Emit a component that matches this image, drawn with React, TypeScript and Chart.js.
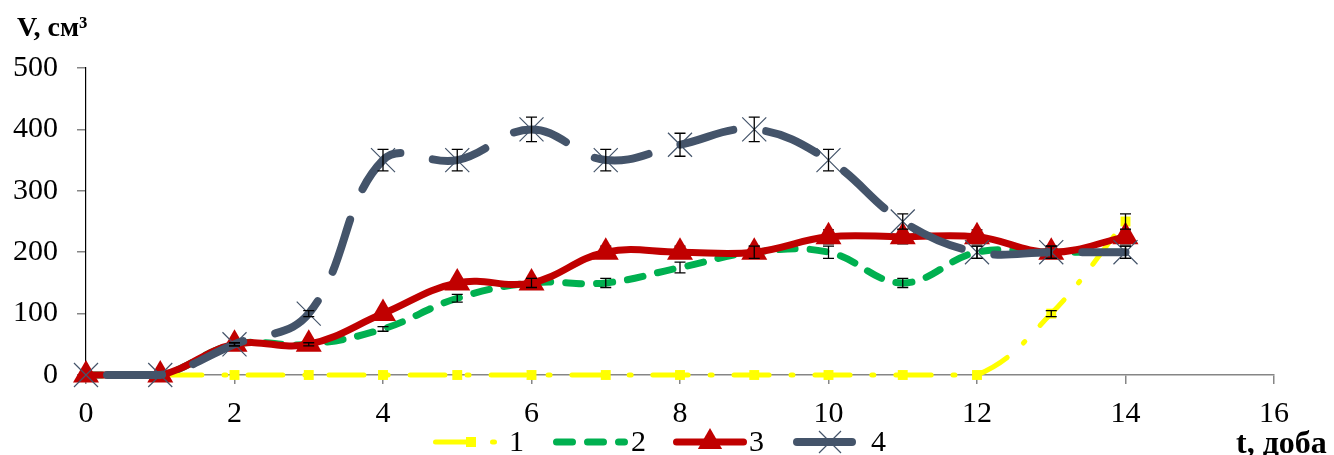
import React, { useEffect, useRef } from "react";
import { Chart, registerables } from "chart.js";

Chart.register(...registerables);

const days = [0, 1, 2, 3, 4, 5, 6, 7, 8, 9, 10, 11, 12, 13, 14];
const series1 = [0, 0, 0, 0, 0, 0, 0, 0, 0, 0, 0, 0, 0, 100, 250];
const series2 = [0, 0, 50, 50, 75, 125, 150, 150, 175, 200, 200, 150, 200, 200, 200];
const series3 = [0, 0, 50, 50, 100, 150, 150, 200, 200, 200, 225, 225, 225, 200, 225];
const series4 = [0, 0, 50, 100, 350, 350, 400, 350, 375, 400, 350, 250, 200, 200, 200];
const errors1 = [0, 0, 0, 0, 0, 0, 0, 0, 0, 0, 0, 0, 0, 5, 12.5];
const errors2 = [0, 0, 2.5, 2.5, 3.75, 6.25, 7.5, 7.5, 8.75, 10, 10, 7.5, 10, 10, 10];
const errors3 = [0, 0, 2.5, 2.5, 5, 7.5, 7.5, 10, 10, 10, 11.25, 11.25, 11.25, 10, 11.25];
const errors4 = [0, 0, 2.5, 5, 17.5, 17.5, 20, 17.5, 18.75, 20, 17.5, 12.5, 10, 10, 10];
const seriesLabels = ["1", "2", "3", "4"];
const xTicks = { min: 0, max: 16, step: 2 };
const yTicks = { min: 0, max: 500, step: 100 };
const yAxisTitle = "V, см³";
const xAxisTitle = "t, доба";

const FONT = "'Liberation Serif', 'Times New Roman', serif";
const COLORS = ["#FFFF00", "#00B050", "#C00000", "#44546A"];

const toPoints = (vals: number[]) => days.map((d, i) => ({ x: d, y: vals[i] }));

const ALL_ERRORS = [errors1, errors2, errors3, errors4];
const ALL_VALUES = [series1, series2, series3, series4];
const UNDER = [2]; // error bars drawn beneath their series

function drawErrors(chart: any, s: number) {
  const ctx = chart.ctx;
  const xs = chart.scales.x;
  const ys = chart.scales.y;
  ctx.save();
  ctx.strokeStyle = "#000000";
  ctx.lineWidth = 1.3;
  ctx.setLineDash([]);
  ctx.lineCap = "butt";
  ALL_ERRORS[s].forEach((e, i) => {
    if (!e) return;
    const x = xs.getPixelForValue(days[i]);
    const yt = ys.getPixelForValue(ALL_VALUES[s][i] + e);
    const yb = ys.getPixelForValue(ALL_VALUES[s][i] - e);
    ctx.beginPath();
    ctx.moveTo(x, yt);
    ctx.lineTo(x, yb);
    ctx.moveTo(x - 5.5, yt);
    ctx.lineTo(x + 5.5, yt);
    ctx.moveTo(x - 5.5, yb);
    ctx.lineTo(x + 5.5, yb);
    ctx.stroke();
  });
  ctx.restore();
}

const errorBarPlugin = {
  id: "errorBars",
  beforeDatasetDraw(chart: any, args: any) {
    if (UNDER.includes(args.index)) drawErrors(chart, args.index);
  },
  afterDatasetsDraw(chart: any) {
    [0, 1, 3].forEach((s) => drawErrors(chart, s));
  },
};

const legendPlugin = {
  id: "customLegend",
  afterDraw(chart: any) {
    const ctx = chart.ctx;
    const y = 442;
    ctx.save();
    ctx.lineCap = "round";
    // item 1
    ctx.strokeStyle = COLORS[0];
    ctx.lineWidth = 5;
    ctx.setLineDash([35, 22, 2, 22]);
    ctx.beginPath();
    ctx.moveTo(435.5, y);
    ctx.lineTo(497, y);
    ctx.stroke();
    ctx.fillStyle = COLORS[0];
    ctx.fillRect(466, y - 5, 10, 10);
    // item 2
    ctx.strokeStyle = COLORS[1];
    ctx.lineWidth = 7;
    ctx.setLineDash([16, 15]);
    ctx.beginPath();
    ctx.moveTo(556.5, y);
    ctx.lineTo(624.5, y);
    ctx.stroke();
    // item 3
    ctx.setLineDash([]);
    ctx.strokeStyle = COLORS[2];
    ctx.lineWidth = 7;
    ctx.beginPath();
    ctx.moveTo(676.5, y);
    ctx.lineTo(743.5, y);
    ctx.stroke();
    const r = 14;
    const cx = 710;
    ctx.fillStyle = COLORS[2];
    ctx.beginPath();
    ctx.moveTo(cx, y - r);
    ctx.lineTo(cx - r * Math.sin(Math.PI / 3), y + r / 2);
    ctx.lineTo(cx + r * Math.sin(Math.PI / 3), y + r / 2);
    ctx.closePath();
    ctx.fill();
    // item 4
    ctx.strokeStyle = COLORS[3];
    ctx.lineWidth = 8;
    ctx.beginPath();
    ctx.moveTo(797, y);
    ctx.lineTo(852, y);
    ctx.stroke();
    ctx.lineWidth = 1.2;
    ctx.lineCap = "butt";
    ctx.beginPath();
    ctx.moveTo(830 - 11, y - 11);
    ctx.lineTo(830 + 11, y + 11);
    ctx.moveTo(830 - 11, y + 11);
    ctx.lineTo(830 + 11, y - 11);
    ctx.stroke();
    // labels
    ctx.fillStyle = "#000000";
    ctx.font = `30px ${FONT}`;
    ctx.textBaseline = "middle";
    ctx.textAlign = "left";
    const lx = [509, 631, 749, 871];
    seriesLabels.forEach((t, i) => ctx.fillText(t, lx[i], y + 1));
    ctx.restore();
  },
};

export default function App() {
  const ref = useRef<HTMLCanvasElement>(null);

  useEffect(() => {
    if (!ref.current) return;
    const chart = new Chart(ref.current, {
      type: "line",
      data: {
        datasets: [
          {
            label: seriesLabels[0],
            data: toPoints(series1),
            borderColor: COLORS[0],
            backgroundColor: COLORS[0],
            borderWidth: 5,
            borderDash: [35, 22, 2, 22],
            borderCapStyle: "round",
            pointStyle: "rect",
            pointRadius: 7,
            pointBorderWidth: 0,
            tension: 0.4,
            clip: false,
            order: 4,
          },
          {
            label: seriesLabels[1],
            data: toPoints(series2),
            borderColor: COLORS[1],
            backgroundColor: COLORS[1],
            borderWidth: 7,
            borderDash: [16, 15],
            borderCapStyle: "round",
            pointRadius: 0,
            tension: 0.4,
            clip: false,
            order: 3,
          },
          {
            label: seriesLabels[2],
            data: toPoints(series3),
            borderColor: COLORS[2],
            backgroundColor: COLORS[2],
            borderWidth: 7,
            borderCapStyle: "round",
            pointStyle: "triangle",
            pointRadius: 15,
            pointBorderWidth: 0,
            tension: 0.4,
            clip: false,
            order: 2,
          },
          {
            label: seriesLabels[3],
            data: toPoints(series4),
            borderColor: COLORS[3],
            backgroundColor: COLORS[3],
            borderWidth: 8,
            borderDash: [55, 33],
            borderDashOffset: -21,
            borderCapStyle: "round",
            pointStyle: "crossRot",
            pointRadius: 17,
            pointBorderWidth: 1.2,
            pointBorderColor: COLORS[3],
            tension: 0.4,
            clip: false,
            order: 1,
          },
        ],
      },
      options: {
        animation: false,
        responsive: false,
        maintainAspectRatio: false,
        layout: { padding: { left: 0, top: 68, right: 60, bottom: 0 } },
        plugins: {
          legend: { display: false },
          tooltip: { enabled: false },
          title: { display: false },
        },
        scales: {
          x: {
            type: "linear",
            min: xTicks.min,
            max: xTicks.max,
            ticks: {
              stepSize: xTicks.step,
              color: "#000000",
              font: { family: FONT, size: 30 },
              padding: 12,
              maxRotation: 0,
            },
            grid: {
              display: true,
              drawOnChartArea: false,
              drawTicks: true,
              tickLength: 9,
              color: "#868686",
              lineWidth: 1.5,
            },
            border: { display: true, color: "#868686", width: 1.5 },
            afterFit: (scale: any) => {
              scale.height = 80;
            },
          },
          y: {
            type: "linear",
            min: yTicks.min,
            max: yTicks.max,
            ticks: {
              stepSize: yTicks.step,
              color: "#000000",
              font: { family: FONT, size: 30 },
              padding: 19,
            },
            grid: {
              display: true,
              drawOnChartArea: false,
              drawTicks: true,
              tickLength: 9,
              color: "#868686",
              lineWidth: 1.5,
            },
            border: { display: true, color: "#000000", width: 1.2 },
            afterFit: (scale: any) => {
              scale.width = 86;
            },
          },
        },
      },
      plugins: [errorBarPlugin, legendPlugin],
    });
    return () => chart.destroy();
  }, []);

  return (
    <div
      style={{
        position: "absolute",
        left: 0,
        top: 0,
        width: 1334,
        height: 455,
        background: "#ffffff",
        overflow: "hidden",
      }}
    >
      <canvas ref={ref} width={1334} height={455} style={{ display: "block" }} />
      <div
        style={{
          position: "absolute",
          left: 17,
          top: 13,
          fontFamily: FONT,
          fontWeight: "bold",
          fontSize: 28,
          lineHeight: 1,
          whiteSpace: "nowrap",
        }}
      >
        {yAxisTitle}
      </div>
      <div
        style={{
          position: "absolute",
          left: 1236,
          top: 426,
          fontFamily: FONT,
          fontWeight: "bold",
          fontSize: 32,
          lineHeight: 1,
          whiteSpace: "nowrap",
        }}
      >
        {xAxisTitle}
      </div>
    </div>
  );
}
